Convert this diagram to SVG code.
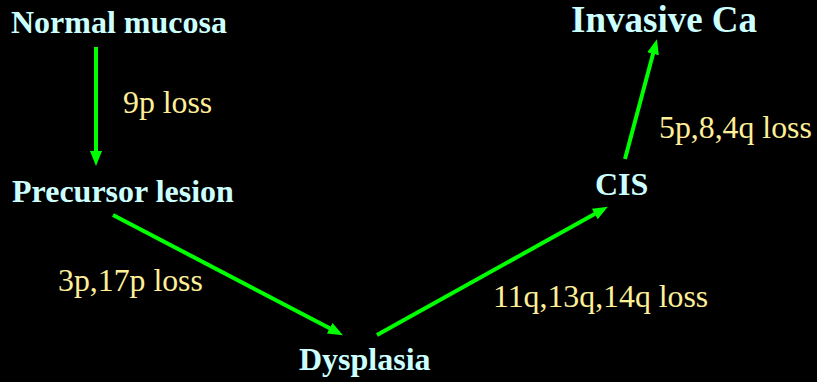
<svg xmlns="http://www.w3.org/2000/svg" width="817" height="382" viewBox="0 0 817 382">
<style>
.node{font-family:"Liberation Serif","Times New Roman",serif;font-weight:bold;font-size:32px;fill:#CCFFFF}
.lbl{font-family:"Liberation Serif","Times New Roman",serif;font-size:31.8px;fill:#FFEF99}
.edge{stroke:#00FF00;stroke-width:4;fill:none;marker-end:url(#ah)}
</style>
<defs>
<marker id="ah" markerUnits="userSpaceOnUse" markerWidth="16" markerHeight="14" refX="6" refY="6" orient="auto">
<path d="M0,0 L15,6 L0,12 z" fill="#00FF00"/>
</marker>
</defs>
<rect width="817" height="382" fill="#000000"/>
<g id="connectors">
<line class="edge" x1="96" y1="47" x2="96" y2="157"/>
<line class="edge" x1="113" y1="215" x2="335" y2="331"/>
<line class="edge" x1="377" y1="335" x2="600" y2="211"/>
<line class="edge" x1="625" y1="159" x2="654.6" y2="48"/>
</g>
<g id="normal"><text class="node" x="11" y="33">Normal mucosa</text></g>
<g id="precursor"><text class="node" x="12" y="202">Precursor lesion</text></g>
<g id="dysplasia"><text class="node" x="299" y="370">Dysplasia</text></g>
<g id="cis"><text class="node" x="595" y="195">CIS</text></g>
<g id="invasive"><text class="node" x="571" y="32" style="font-size:37px">Invasive Ca</text></g>
<g id="labels">
<text class="lbl" x="123" y="113">9p loss</text>
<text class="lbl" x="58" y="291">3p,17p loss</text>
<text class="lbl" x="493" y="307">11q,13q,14q loss</text>
<text class="lbl" x="659" y="138">5p,8,4q loss</text>
</g>
</svg>
